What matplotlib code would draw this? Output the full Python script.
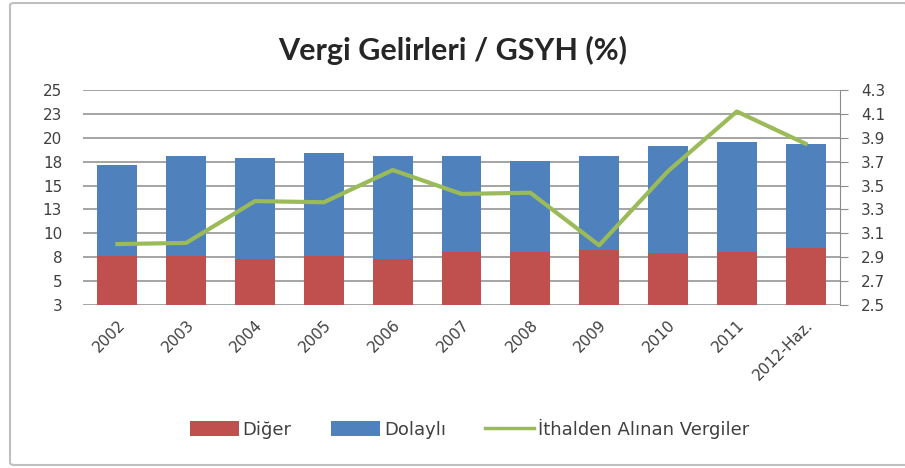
import numpy as np
import matplotlib.pyplot as plt
from matplotlib.patches import FancyBboxPatch

# data
years = ['2002', '2003', '2004', '2005', '2006', '2007', '2008', '2009', '2010', '2011', '2012-Haz.']
diger = [7.6, 7.6, 7.3, 7.6, 7.3, 8.0, 8.0, 8.3, 7.9, 8.0, 8.5]
dolayli = [9.5, 10.5, 10.6, 10.8, 10.8, 10.1, 9.6, 9.8, 11.2, 11.6, 10.9]
ithalden = [3.01, 3.02, 3.37, 3.36, 3.63, 3.43, 3.44, 3.00, 3.62, 4.12, 3.85]

left_ticks = np.arange(2.5, 25.01, 2.5)
right_ticks = np.arange(2.5, 4.31, 0.2)

c_red = '#C0504D'
c_blue = '#4F81BD'
c_green = '#9BBB59'
c_text = '#404040'
c_grid = '#8C8C8C'

plt.rcParams['font.family'] = ['DejaVu Sans']

fig = plt.figure(figsize=(9.05, 4.68), dpi=100)

# outer chart border
border = FancyBboxPatch((10/905, 3/468), 900/905, 462/468, boxstyle='round,pad=0,rounding_size=0.005',
                        transform=fig.transFigure, fill=False, edgecolor='#BFBFBF', linewidth=1.5)
fig.patches.append(border)

ax = fig.add_axes([83/905, 163/468, 757/905, 215/468])
x = np.arange(len(years))
ax.bar(x, diger, width=0.58, color=c_red, label='Diğer', zorder=2)
ax.bar(x, dolayli, width=0.58, bottom=diger, color=c_blue, label='Dolaylı', zorder=2)
ax.set_ylim(2.5, 25)
ax.set_yticks(left_ticks)
ax.set_yticklabels(['%.0f' % np.floor(v + 0.5) for v in left_ticks])
ax.set_xlim(-0.5, len(years) - 0.5)
ax.set_xticks(x)
ax.set_xticklabels(years, rotation=45, ha='right', rotation_mode='anchor')
ax.grid(axis='y', color=c_grid, linewidth=1.1, zorder=0)
for s in ['left', 'top', 'bottom', 'right']:
    ax.spines[s].set_visible(False)
ax.tick_params(axis='y', length=0, labelsize=11, colors=c_text, pad=15)
ax.tick_params(axis='x', length=0, labelsize=11, colors=c_text, pad=9)

ax2 = ax.twinx()
ax2.plot(x, ithalden, color=c_green, linewidth=3, label='İthalden Alınan Vergiler', zorder=3)
ax2.set_ylim(2.5, 4.3)
ax2.set_yticks(right_ticks)
ax2.set_yticklabels(['%.1f' % v for v in right_ticks])
for s in ['left', 'top', 'bottom']:
    ax2.spines[s].set_visible(False)
ax2.spines['right'].set_color(c_grid)
ax2.tick_params(axis='y', length=6, direction='out', color=c_grid, labelsize=11, labelcolor=c_text, pad=9)

fig.text(0.5, 0.893, 'Vergi Gelirleri / GSYH (%)', ha='center', va='center', fontsize=22,
         fontweight='bold', color='#262626', family=['Lato', 'DejaVu Sans'])

h1, l1 = ax.get_legend_handles_labels()
h2, l2 = ax2.get_legend_handles_labels()
leg = fig.legend(h1 + h2, l1 + l2, loc='center', bbox_to_anchor=(0.519, 39/468), ncol=3, frameon=False,
                 fontsize=13, handlelength=2.7, handleheight=0.9, handletextpad=0.2, columnspacing=2.2,
                 labelcolor=c_text)
leg.get_lines()[0].set_linewidth(2.5)

fig.savefig('out.png', dpi=100)
